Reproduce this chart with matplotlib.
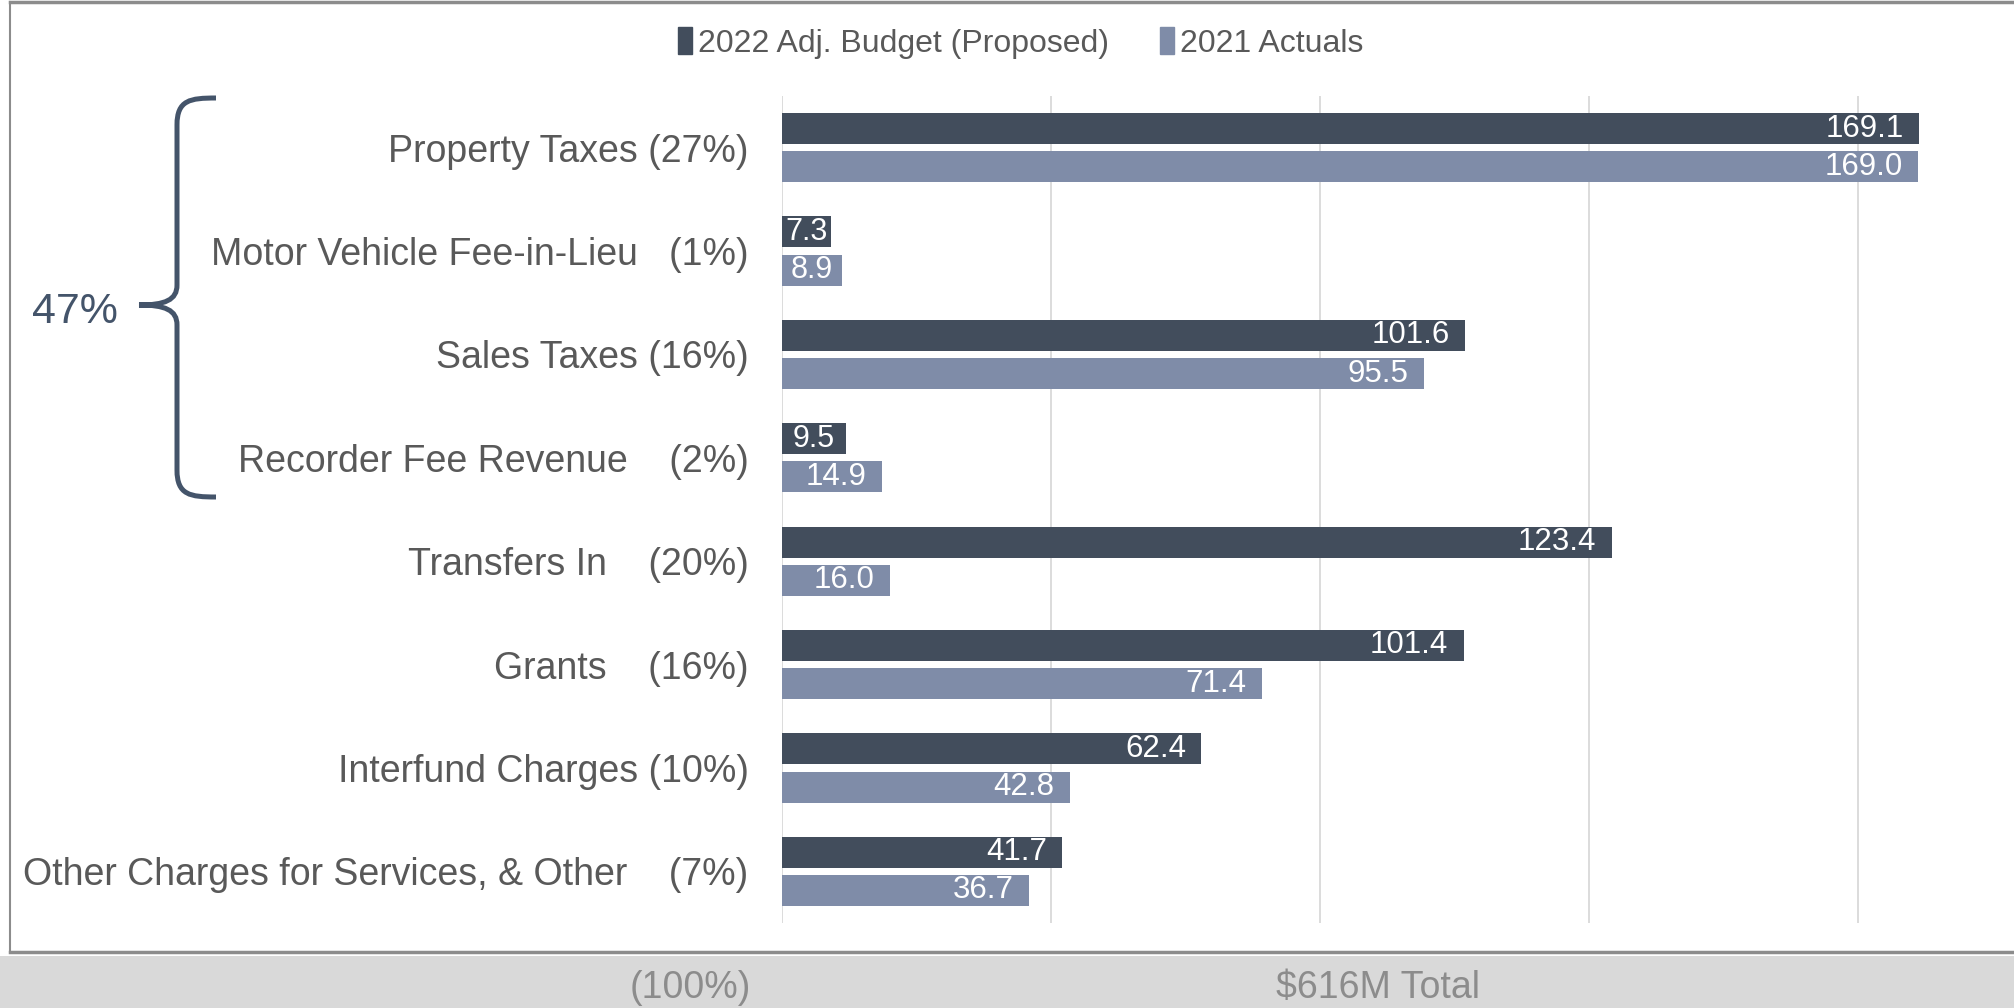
import matplotlib.pyplot as plt
import numpy as np
from matplotlib.path import Path
from matplotlib.patches import PathPatch, Patch, Rectangle
from matplotlib.lines import Line2D

plt.rcParams['font.family'] = ['Liberation Sans', 'DejaVu Sans']

# data
categories = ["Property Taxes (27%)",
              "Motor Vehicle Fee-in-Lieu   (1%)",
              "Sales Taxes (16%)",
              "Recorder Fee Revenue    (2%)",
              "Transfers In    (20%)",
              "Grants    (16%)",
              "Interfund Charges (10%)",
              "Other Charges for Services, & Other    (7%)"]
budget_2022 = [169.1, 7.3, 101.6, 9.5, 123.4, 101.4, 62.4, 41.7]
actuals_2021 = [169.0, 8.9, 95.5, 14.9, 16.0, 71.4, 42.8, 36.7]
series_names = ["2022 Adj. Budget (Proposed)", "2021 Actuals"]

dark = '#424D5C'
light = '#7F8CA8'
textgray = '#595959'
slate = '#44546A'

W, H = 2015, 1008
fig = plt.figure(figsize=(W / 100, H / 100), dpi=100)

def fx(x):
    return x / W

def fy(y):
    return 1 - y / H

ax = fig.add_axes([fx(782), fy(923), fx(1992) - fx(782), fy(96) - fy(923)])

y = np.arange(len(categories))
h = 0.3
off = 0.185
ax.barh(y - off, budget_2022, height=h, color=dark, linewidth=0, zorder=3)
ax.barh(y + off, actuals_2021, height=h, color=light, linewidth=0, zorder=3)

for vals, dy in [(budget_2022, -off), (actuals_2021, off)]:
    for i, v in enumerate(vals):
        if v < 12:
            ax.text(v / 2, i + dy, f"{v:.1f}", color='white', fontsize=22,
                    ha='center', va='center', zorder=4)
        else:
            ax.annotate(f"{v:.1f}", (v, i + dy), xytext=(-11, 0),
                        textcoords='offset points', color='white', fontsize=22.5,
                        ha='right', va='center', zorder=4)

ax.set_xlim(0, 180)
ax.set_ylim(len(categories) - 0.5, -0.5)
ax.set_xticks([0, 40, 80, 120, 160])
ax.set_xticklabels([])
ax.tick_params(axis='x', length=0)
ax.grid(axis='x', color='#D9D9D9', linewidth=1.3, zorder=0)
ax.set_yticks(y)
ax.set_yticklabels(categories, fontsize=27, color=textgray)
ax.tick_params(axis='y', length=0, pad=24)
for s in ax.spines.values():
    s.set_visible(False)

# legend
handles = [Patch(color=dark), Patch(color=light)]
fig.legend(handles, series_names, loc='center', bbox_to_anchor=(fx(1021), fy(43)),
           ncol=2, frameon=False, fontsize=23, labelcolor=textgray,
           handlelength=0.42, handleheight=0.9, handletextpad=0.2, columnspacing=1.6)

# brace
verts = [(216, 98), (190, 98), (177, 100), (177, 125),
         (177, 285),
         (177, 300), (165, 305), (139, 305),
         (165, 305), (177, 310), (177, 325),
         (177, 470),
         (177, 495), (190, 497), (216, 497)]
codes = [Path.MOVETO, Path.CURVE4, Path.CURVE4, Path.CURVE4,
         Path.LINETO,
         Path.CURVE4, Path.CURVE4, Path.CURVE4,
         Path.CURVE4, Path.CURVE4, Path.CURVE4,
         Path.LINETO,
         Path.CURVE4, Path.CURVE4, Path.CURVE4]
brace = Path([(fx(a), fy(b)) for a, b in verts], codes)
fig.patches.append(PathPatch(brace, transform=fig.transFigure, fill=False,
                             edgecolor=slate, linewidth=3.6, capstyle='butt'))
fig.text(fx(75), fy(312), "47%", fontsize=31, color=slate, ha='center', va='center')

# frame and bottom band
fig.add_artist(Line2D([fx(10), fx(10)], [fy(2), fy(952)], color='#8C8C8C', linewidth=1.5))
fig.add_artist(Line2D([fx(10), 1], [fy(1.5), fy(1.5)], color='#8C8C8C', linewidth=2.5))
fig.add_artist(Line2D([fx(10), 1], [fy(952), fy(952)], color='#8C8C8C', linewidth=2.5))
fig.patches.append(Rectangle((0, 0), 1, fy(956), transform=fig.transFigure,
                             facecolor='#D9D9D9', edgecolor='none'))
fig.text(fx(690), fy(988), "(100%)", fontsize=27, color='#8C8C8C', ha='center', va='center')
fig.text(fx(1378), fy(988), "$616M Total", fontsize=27, color='#8C8C8C', ha='center', va='center')

fig.savefig('out.png', dpi=100)
